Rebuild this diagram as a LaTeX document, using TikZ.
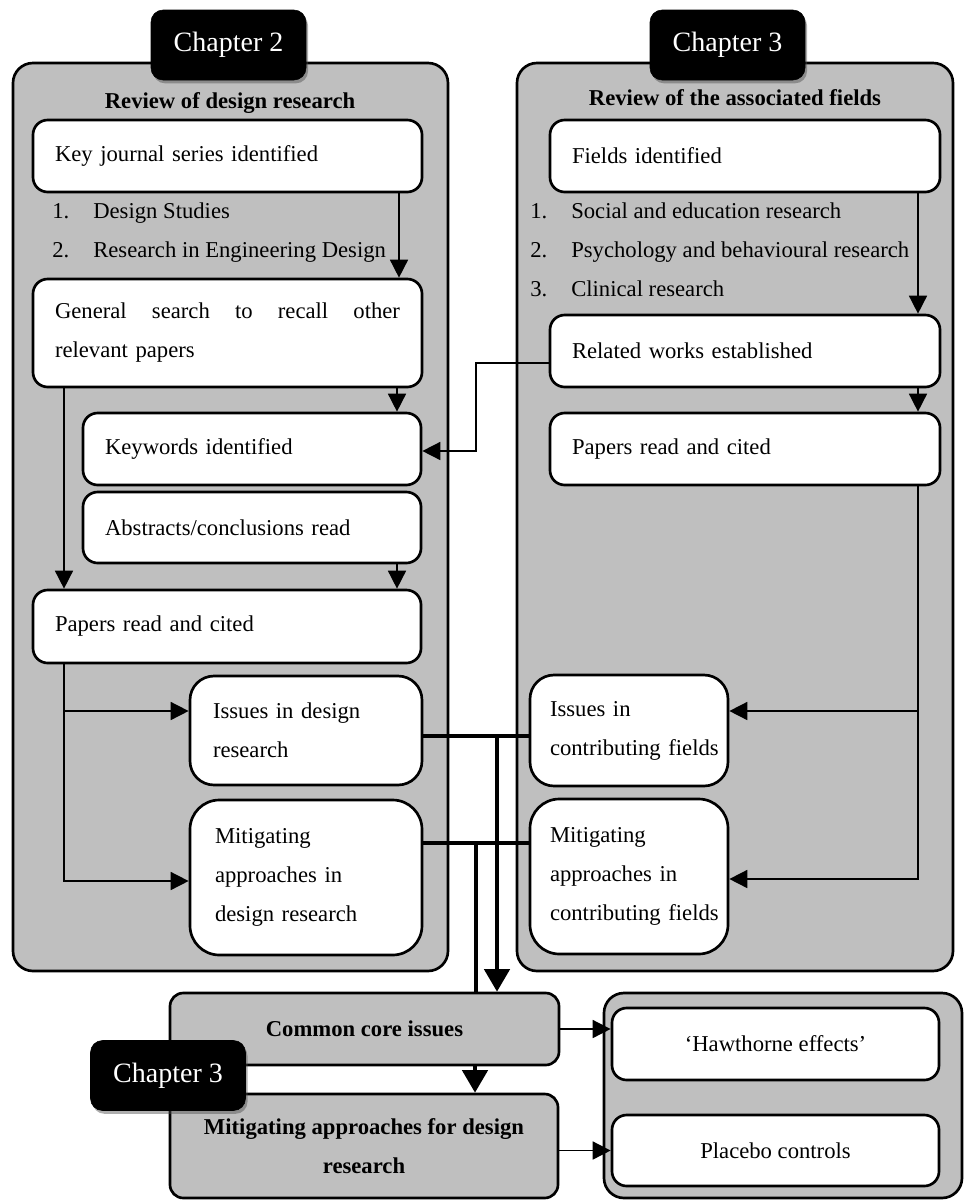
\documentclass[tikz,border=0pt]{standalone}
\usepackage{fontspec}
\setmainfont{Liberation Serif}
\usetikzlibrary{arrows.meta,shadows}
\definecolor{pgray}{HTML}{BFBFBF}
\begin{document}
\begin{tikzpicture}[x=0.75pt,y=-0.75pt,
  every node/.style={inner sep=0pt, font=\fontsize{17}{29.25}\selectfont},
  panel/.style={draw, line width=2pt, fill=pgray, rounded corners=15pt},
  wbox/.style={draw, line width=2pt, fill=white, rounded corners=11pt, align=left, inner xsep=16.5pt},
  tallbox/.style={wbox, rounded corners=18pt},
  gbox/.style={draw, line width=2pt, fill=pgray, rounded corners=10pt, align=center, font=\bfseries\fontsize{17}{29.25}\selectfont},
  tab/.style={draw=black, fill=black, text=white, rounded corners=9pt, minimum width=116.25pt, minimum height=52.5pt, font=\fontsize{21}{25}\selectfont, drop shadow={shadow xshift=1.5pt, shadow yshift=-2.5pt, opacity=0.45, fill=black!70}},
  listitem/.style={anchor=base west},
  titletext/.style={anchor=base, font=\bfseries\fontsize{17}{29.25}\selectfont},
  thinarr/.style={line width=1.2pt, -{Triangle[length=13.5pt,width=13.5pt]}},
  thickarr/.style={line width=3pt, -{Triangle[length=17pt,width=19pt]}},
  thickline/.style={line width=3pt}
]
\useasboundingbox (0,0) rectangle (964,1200);
\fill[white] (0,0) rectangle (964,1200);

% column / row helpers
\coordinate (xa) at (399,0);
\coordinate (xb) at (397,0);
\coordinate (xc) at (64,0);
\coordinate (xf) at (918,0);
\coordinate (xi) at (476,0);
\coordinate (xm) at (497,0);
\coordinate (xn) at (475,0);
\coordinate (ye) at (0,711);
\coordinate (yg) at (0,879);
\coordinate (yh) at (0,363);
\coordinate (yj) at (0,451);
\coordinate (yk) at (0,736);
\coordinate (yl) at (0,843);
\coordinate (yd) at (0,881);

% panels
\node[panel, minimum width=326.25pt, minimum height=681pt] (LP) at (230.5,517) {};
\node[panel, minimum width=327pt, minimum height=681pt] (RP) at (735,517) {};
\node[panel, minimum width=268.5pt, minimum height=153.75pt] (BP) at (783,1095.5) {};

% titles
\node[titletext] (LT) at (230,108) {Review of design research};
\node[titletext] (RT) at (735,105) {Review of the associated fields};

% left column boxes
\node[wbox, minimum width=291.75pt, minimum height=54pt, text width=258.75pt] (L1) at (227.5,156) {Key journal series identified};
\node[listitem] (L1a) at (52,218) {1.};
\node[listitem] (L1b) at (93,218) {Design Studies};
\node[listitem] (L1c) at (52,257) {2.};
\node[listitem] (L1d) at (93,257) {Research in Engineering Design};
\node[wbox, minimum width=291.75pt, minimum height=81pt, text width=258.75pt] (L2) at (227.5,333) {General\hfill search\hfill to\hfill recall\hfill other\\relevant papers};
\node[wbox, minimum width=253.5pt, minimum height=54pt, text width=220.5pt] (L3) at (252,449) {Keywords identified};
\node[wbox, minimum width=253.5pt, minimum height=53.25pt, text width=220.5pt] (L4) at (252,527.5) {Abstracts/conclusions read};
\node[wbox, minimum width=291pt, minimum height=54.75pt, text width=258pt] (L5) at (227,626.5) {Papers read and cited};
\node[tallbox, inner xsep=17.25pt, minimum width=174pt, minimum height=81.75pt, text width=139.5pt] (L6) at (306,730.5) {Issues in design\\research};
\node[tallbox, inner xsep=18.75pt, rounded corners=22pt, minimum width=174pt, minimum height=116.25pt, text width=136.5pt] (L7) at (306,877.5) {Mitigating\\approaches in\\design research};

% right column boxes
\node[wbox, minimum width=292.5pt, minimum height=54pt, text width=259.5pt] (R1) at (745,156) {Fields identified};
\node[listitem] (R1a) at (530,218) {1.};
\node[listitem] (R1b) at (571,218) {Social and education research};
\node[listitem] (R1c) at (530,257) {2.};
\node[listitem] (R1d) at (571,257) {Psychology and behavioural research};
\node[listitem] (R1e) at (530,296) {3.};
\node[listitem] (R1f) at (571,296) {Clinical research};
\node[wbox, minimum width=292.5pt, minimum height=54pt, text width=259.5pt] (R2) at (745,351) {Related works established};
\node[wbox, minimum width=292.5pt, minimum height=54pt, text width=259.5pt] (R3) at (745,449) {Papers read and cited};
\node[tallbox, inner xsep=15pt, minimum width=148.5pt, minimum height=83.25pt, text width=118.5pt] (R4) at (629,730.5) {Issues in\\contributing~fields};
\node[tallbox, inner xsep=15pt, rounded corners=22pt, minimum width=148.5pt, minimum height=116.25pt, text width=118.5pt] (R5) at (629,876.5) {Mitigating\\approaches in\\contributing~fields};

% bottom boxes
\node[gbox, minimum width=291.75pt, minimum height=54pt] (CC) at (364.5,1029) {Common core issues};
\node[gbox, minimum width=291pt, minimum height=78pt] (MF) at (364,1146) {Mitigating approaches for design\\research};
\node[wbox, align=center, minimum width=245.25pt, minimum height=54pt] (HW) at (775.5,1044) {‘Hawthorne effects’};
\node[wbox, align=center, minimum width=245.25pt, minimum height=53.25pt] (PL) at (775.5,1150.5) {Placebo controls};

% thin connectors, left
\draw[thinarr] (L1.south -| xa) -- (L2.north -| xa);
\draw[thinarr] (L2.south -| xb) -- (L3.north -| xb);
\draw[thinarr] (L4.south -| xb) -- (L5.north -| xb);
\draw[thinarr] (L2.south -| xc) -- (L5.north -| xc);
\draw[thinarr] (L5.south -| xc) |- (L7.west |- yd);
\draw[thinarr] (xc |- ye) -- (L6.west |- ye);

% thin connectors, right
\draw[thinarr] (R1.south -| xf) -- (R2.north -| xf);
\draw[thinarr] (R2.south -| xf) -- (R3.north -| xf);
\draw[thinarr] (R3.south -| xf) |- (R5.east |- yg);
\draw[thinarr] (xf |- ye) -- (R4.east |- ye);
\draw[thinarr] (R2.west |- yh) -| (xi |- yj) -- (L3.east |- yj);

% thick connectors
\draw[thickline] (L6.east |- yk) -- (R4.west |- yk);
\draw[thickline] (L7.east |- yl) -- (R5.west |- yl);
\draw[thickarr] (xm |- yk) -- (CC.north -| xm);
\draw[thickline] (xi |- yl) -- (CC.north -| xi);
\draw[thickarr] (CC.south -| xn) -- (MF.north -| xn);
\draw[thinarr] (CC.east) -- (HW.west |- CC.east);
\draw[thinarr] (MF.east |- PL.west) -- (PL.west);

% chapter tabs
\node[tab] (T1) at (228.5,45) {Chapter 2};
\node[tab] (T2) at (727.5,45) {Chapter 3};
\node[tab] (T3) at (168,1075.5) {Chapter 3};
\end{tikzpicture}
\end{document}
